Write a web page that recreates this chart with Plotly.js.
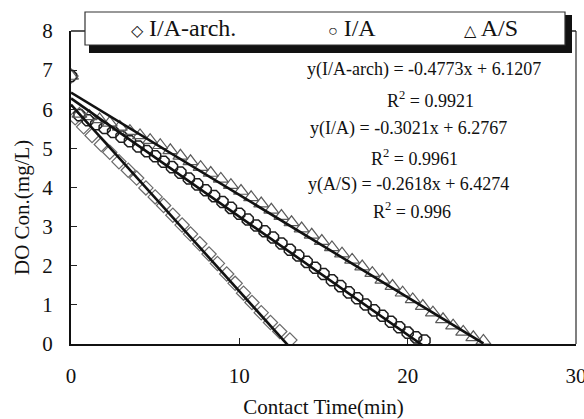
<!DOCTYPE html>
<html>
<head>
<meta charset="utf-8">
<script src="https://cdn.plot.ly/plotly-3.0.1.min.js"></script>
<style>html,body{margin:0;padding:0;background:#fff;}#chart{width:584px;height:419px;}</style>
</head>
<body>
<div id="chart"></div>
<script>
// ---- data ----
const seriesNames = ["I/A-arch.", "I/A", "A/S"];

const archX = [0, 0.25, 0.75, 1.25, 1.8, 2.3, 2.85, 3.4, 3.9, 4.45, 5.0, 5.5, 6.05, 6.6, 7.1, 7.65, 8.2, 8.7, 9.25, 9.75, 10.25, 10.75, 11.3, 11.85, 12.4, 13.0];
const archY = [6.85, 5.78, 5.55, 5.33, 5.10, 4.90, 4.66, 4.44, 4.24, 3.99, 3.76, 3.54, 3.29, 3.04, 2.81, 2.56, 2.30, 2.06, 1.79, 1.55, 1.30, 1.06, 0.80, 0.55, 0.32, 0.10];

const iaX = [0, 0.5, 1.0, 1.5, 2.0, 2.5, 3.0, 3.5, 4.0, 4.5, 5.0, 5.5, 6.0, 6.5, 7.0, 7.5, 8.0, 8.5, 9.0, 9.5, 10.0, 10.5, 11.0, 11.5, 12.0, 12.5, 13.0, 13.5, 14.0, 14.5, 15.0, 15.5, 16.0, 16.5, 17.0, 17.5, 18.0, 18.5, 19.0, 19.5, 20.0, 20.5, 21.0];
const iaY = [6.85, 5.85, 5.72, 5.62, 5.52, 5.42, 5.30, 5.18, 5.05, 4.93, 4.80, 4.66, 4.52, 4.38, 4.23, 4.08, 3.93, 3.78, 3.63, 3.48, 3.33, 3.18, 3.03, 2.88, 2.72, 2.57, 2.41, 2.26, 2.10, 1.95, 1.79, 1.63, 1.48, 1.32, 1.17, 1.01, 0.86, 0.72, 0.57, 0.43, 0.29, 0.17, 0.09];

const asX = [0, 0.5, 1.1, 1.7, 2.3, 2.9, 3.5, 4.1, 4.7, 5.3, 5.9, 6.5, 7.1, 7.7, 8.3, 8.9, 9.5, 10.1, 10.7, 11.3, 11.9, 12.5, 13.1, 13.7, 14.3, 14.9, 15.5, 16.1, 16.7, 17.3, 17.9, 18.5, 19.1, 19.7, 20.3, 20.9, 21.5, 22.1, 22.7, 23.3, 23.9, 24.5];
const asY = [6.85, 5.88, 5.82, 5.74, 5.65, 5.55, 5.44, 5.33, 5.21, 5.08, 4.95, 4.81, 4.67, 4.52, 4.37, 4.22, 4.06, 3.91, 3.75, 3.59, 3.43, 3.27, 3.11, 2.95, 2.79, 2.63, 2.47, 2.31, 2.15, 1.98, 1.81, 1.64, 1.48, 1.31, 1.14, 0.97, 0.80, 0.63, 0.47, 0.31, 0.17, 0.08];

// trendline coefficients printed on the chart
const slopes = [-0.4773, -0.3021, -0.2618];
const intercepts = [6.1207, 6.2767, 6.4274];
const r2 = ["0.9921", "0.9961", "0.996"];
const eqLabels = ["y(I/A-arch)", "y(I/A)", "y(A/S)"];

const xTicks = [0, 10, 20, 30];
const yTicks = [0, 1, 2, 3, 4, 5, 6, 7, 8];
const xTitle = "Contact Time(min)";
const yTitle = "DO Con.(mg/L)";

// ---- build traces ----
const FONT = "'Liberation Serif', 'Times New Roman', serif";
const xs = [archX, iaX, asX];
const ys = [archY, iaY, asY];
const symbols = ["diamond-open", "octagon-open", "triangle-up-open"];
const mColors = ["#6a6a6a", "#1e1e1e", "#5a5a5a"];
const mSizes = [11, 12, 13];
const mWidths = [1.2, 1.5, 1.2];

const traces = [];
for (let i = 0; i < 3; i++) {
  traces.push({
    type: "scatter", mode: "markers", name: seriesNames[i],
    x: xs[i], y: ys[i],
    marker: {symbol: symbols[i], size: mSizes[i], color: mColors[i], line: {width: mWidths[i], color: mColors[i]}},
    showlegend: false, hoverinfo: "skip"
  });
}
for (let i = 0; i < 3; i++) {
  const x0 = Math.min(...xs[i]), x1 = Math.max(...xs[i]);
  traces.push({
    type: "scatter", mode: "lines",
    x: [x0, x1], y: [slopes[i] * x0 + intercepts[i], slopes[i] * x1 + intercepts[i]],
    line: {color: "#111111", width: 2.6},
    showlegend: false, hoverinfo: "skip"
  });
}

// pixel -> paper helpers for decorative positions
const L = 71, R = 576, T = 31, B = 344;
const px = v => (v - L) / (R - L);
const py = v => (B - v) / (B - T);

const fmt = (m, b) => (m < 0 ? "-" : "") + Math.abs(m).toFixed(4) + "x + " + b.toFixed(4);

const eqPos = [[424, 70, 430, 100], [408, 128, 414, 157], [408, 184, 412, 211]];
const annotations = [];
for (let i = 0; i < 3; i++) {
  annotations.push({xref: "paper", yref: "paper", x: px(eqPos[i][0]), y: py(eqPos[i][1]), xanchor: "center", yanchor: "middle",
    text: eqLabels[i] + " = " + fmt(slopes[i], intercepts[i]), showarrow: false, font: {family: FONT, size: 18, color: "#111"}});
  annotations.push({xref: "paper", yref: "paper", x: px(eqPos[i][2]), y: py(eqPos[i][3]), xanchor: "center", yanchor: "middle",
    text: "R<sup>2</sup> = " + r2[i], showarrow: false, font: {family: FONT, size: 18, color: "#111"}});
}
const legSym = ["\u25C7", "\u25CB", "\u25B3"];
const legPos = [183, 352, 491];
for (let i = 0; i < 3; i++) {
  annotations.push({xref: "paper", yref: "paper", x: px(legPos[i]), y: py(28), xanchor: "center", yanchor: "middle",
    text: "<span style='font-size:16px'>" + legSym[i] + "</span> " + seriesNames[i], showarrow: false,
    font: {family: FONT, size: 24, color: "#111"}});
}
// y axis title placed as rotated text
annotations.push({xref: "paper", yref: "paper", x: px(22), y: py(208), xanchor: "center", yanchor: "middle",
  text: yTitle, textangle: -90, showarrow: false, font: {family: FONT, size: 21, color: "#111"}});

const shapes = [
  // right and top frame lines
  {type: "line", xref: "paper", yref: "paper", x0: 1, x1: 1, y0: 0, y1: 1, line: {color: "#555", width: 1.5}, layer: "above"},
  {type: "line", xref: "paper", yref: "paper", x0: 0, x1: 1, y0: 1, y1: 1, line: {color: "#222", width: 1.5}, layer: "above"},
  // legend shadow and box
  {type: "rect", xref: "paper", yref: "paper", x0: px(89), x1: px(572), y0: py(53), y1: py(15), fillcolor: "#111", line: {width: 0}, layer: "above"},
  {type: "rect", xref: "paper", yref: "paper", x0: px(85), x1: px(565), y0: py(45), y1: py(12), fillcolor: "#fff", line: {color: "#333", width: 1.2}, layer: "above"}
];

const layout = {
  width: 584, height: 419,
  margin: {l: L, r: 584 - R, t: T, b: 419 - B, pad: 0},
  paper_bgcolor: "#fff", plot_bgcolor: "#fff",
  font: {family: FONT, size: 21, color: "#111"},
  showlegend: false,
  xaxis: {
    range: [0, 30], tickvals: xTicks, ticktext: xTicks.map(String),
    ticks: "inside", ticklen: 6, tickwidth: 1.2, tickcolor: "#222",
    showline: true, linecolor: "#111", linewidth: 2, showgrid: false, zeroline: false,
    tickfont: {family: FONT, size: 21, color: "#111"}, ticklabelstandoff: 12,
    ticklabeloverflow: "allow",
    title: {text: xTitle, font: {family: FONT, size: 21, color: "#111"}, standoff: 14},
    automargin: false
  },
  yaxis: {
    range: [0, 8], tickvals: yTicks, ticktext: yTicks.map(String),
    ticks: "inside", ticklen: 6, tickwidth: 1.2, tickcolor: "#222",
    showline: true, linecolor: "#111", linewidth: 2, showgrid: false, zeroline: false,
    tickfont: {family: FONT, size: 21, color: "#111"}, ticklabelstandoff: 12,
    ticklabeloverflow: "allow",
    automargin: false
  },
  shapes: shapes,
  annotations: annotations
};

Plotly.newPlot("chart", traces, layout, {staticPlot: true, displayModeBar: false});
</script>
</body>
</html>
